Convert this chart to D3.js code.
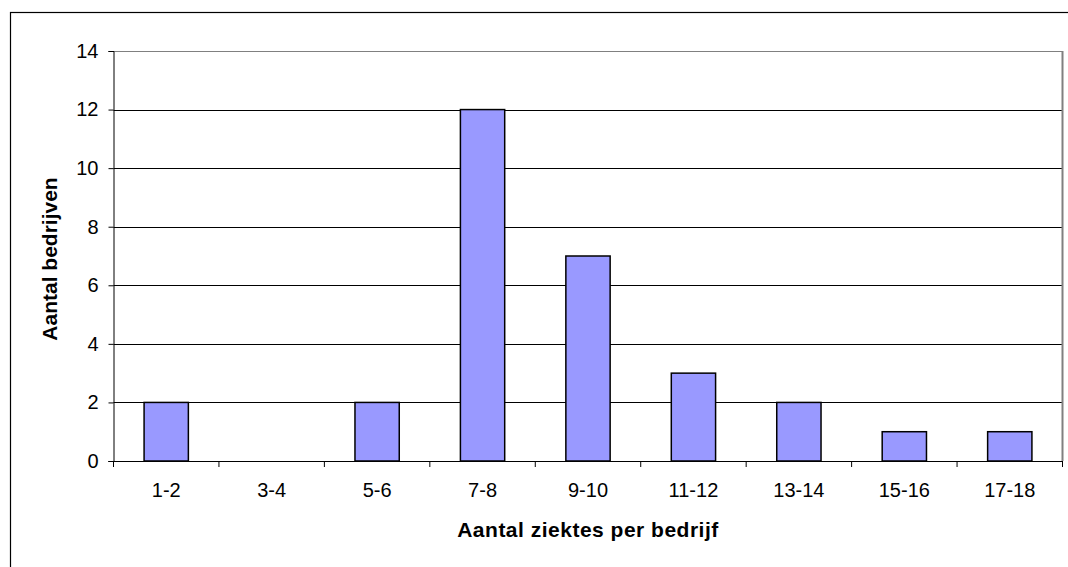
<!DOCTYPE html>
<html><head><meta charset="utf-8">
<script src="https://cdn.jsdelivr.net/npm/d3@7"></script>
<style>body{margin:0;background:#fff}svg{display:block}text{font-family:Arial,"Liberation Sans",sans-serif}</style>
</head><body>
<svg id="c" width="1068" height="567"></svg>
<script>
const categories = ["1-2","3-4","5-6","7-8","9-10","11-12","13-14","15-16","17-18"];
const values = [2,0,2,12,7,3,2,1,1];
const yTicks = [0,2,4,6,8,10,12,14];
const xTitle = "Aantal ziektes per bedrijf";
const yTitle = "Aantal bedrijven";

const svg = d3.select("#c");
svg.append("rect").attr("x",10.5).attr("y",12.5).attr("width",1068).attr("height",567)
  .attr("fill","none").attr("stroke","#000").attr("stroke-width",1.2);

const L=113.5, R=1062.5, T=51, B=461;
const x = d3.scaleBand().domain(categories).range([L,R]).paddingInner(0.58).paddingOuter(0.29);
const xb = d3.scaleBand().domain(categories).range([L,R]);
const y = d3.scaleLinear().domain([0,14]).range([B,T]);

// gridlines
svg.append("g").selectAll("line").data(yTicks.filter(d=>d>0)).join("line")
  .attr("x1",L).attr("x2",R).attr("y1",d=>Math.round(y(d))+0.5).attr("y2",d=>Math.round(y(d))+0.5)
  .attr("stroke",d=>d===14?"#808080":"#000").attr("stroke-width",1);
// right border
svg.append("line").attr("x1",R).attr("x2",R).attr("y1",T).attr("y2",B).attr("stroke","#808080").attr("stroke-width",2);

// bars
svg.append("g").selectAll("rect").data(values).join("rect")
  .attr("x",(d,i)=>x(categories[i])).attr("width",x.bandwidth())
  .attr("y",d=>y(d)).attr("height",d=>B-y(d))
  .attr("fill","#9999ff").attr("stroke","#000").attr("stroke-width",1.5);

// y axis
const ya = svg.append("g").attr("transform",`translate(${L},0)`)
  .call(d3.axisLeft(y).tickValues(yTicks).tickSize(5).tickPadding(10));
ya.select(".domain").attr("stroke","#000");
ya.selectAll("text").attr("font-size",20).attr("fill","#000");

// x axis
const xa = svg.append("g").attr("transform",`translate(0,${B})`);
xa.append("line").attr("x1",L-5).attr("x2",R).attr("y1",0.5).attr("y2",0.5).attr("stroke","#000");
xa.selectAll("line.t").data(categories.concat(["end"])).join("line").attr("class","t")
  .attr("x1",(d,i)=>L+i*xb.step()).attr("x2",(d,i)=>L+i*xb.step()).attr("y1",0).attr("y2",6).attr("stroke","#000");
xa.selectAll("text").data(categories).join("text")
  .attr("x",d=>xb(d)+xb.bandwidth()/2).attr("y",36).attr("text-anchor","middle")
  .attr("font-size",20).text(d=>d);

svg.append("text").attr("x",588).attr("y",537).attr("text-anchor","middle")
  .attr("font-size",21).attr("font-weight","bold").attr("letter-spacing",0.5).text(xTitle);
svg.append("text").attr("transform","translate(57,259) rotate(-90)").attr("text-anchor","middle")
  .attr("font-size",21).attr("font-weight","bold").text(yTitle);
</script>
</body></html>
